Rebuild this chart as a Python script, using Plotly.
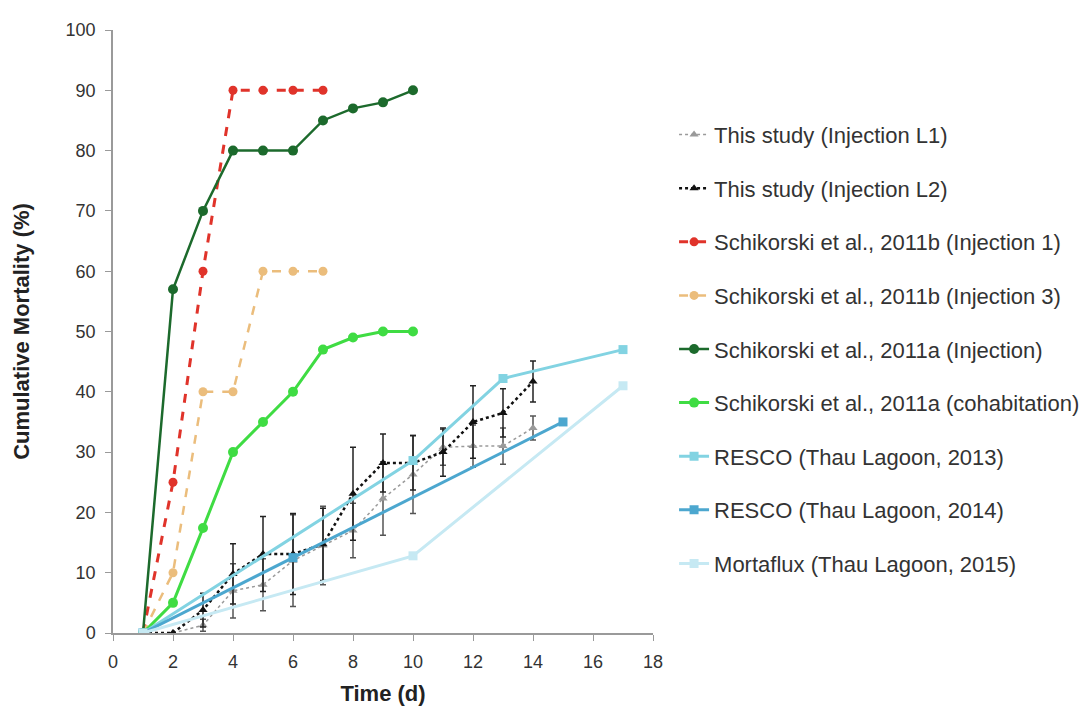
import plotly.graph_objects as go

# ---- data ----
days_study = [1, 2, 3, 4, 5, 6, 7, 8, 9, 10, 11, 12, 13, 14]
l1_vals = [0, 0, 1.3, 7, 8, 12, 14.5, 17, 22.3, 26.3, 30.8, 31, 31, 34]
l1_err = [0, 0, 1, 4.5, 4.3, 7.6, 6.5, 4.5, 6.1, 6.5, 3, 3.5, 3, 2]
l2_vals = [0, 0, 3.8, 9.8, 13.1, 13.1, 14.7, 23.1, 28.2, 28.2, 30, 35, 36.5, 41.7]
l2_err = [0, 0, 2.8, 5, 6.2, 6.7, 6, 7.7, 4.8, 4.5, 4, 6, 4, 3.4]

days_2011b = [1, 2, 3, 4, 5, 6, 7]
inj1_vals = [0, 25, 60, 90, 90, 90, 90]
inj3_vals = [0, 10, 40, 40, 60, 60, 60]

days_2011a = [1, 2, 3, 4, 5, 6, 7, 8, 9, 10]
inj_a_vals = [0, 57, 70, 80, 80, 80, 85, 87, 88, 90]
cohab_vals = [0, 5, 17.4, 30, 35, 40, 47, 49, 50, 50]

days_resco13 = [1, 10, 13, 17]
resco13_vals = [0, 28.6, 42.2, 47]
days_resco14 = [1, 6, 15]
resco14_vals = [0, 12.5, 35]
days_morta = [1, 10, 17]
morta_vals = [0, 12.8, 41]

names = [
    "This study (Injection L1)",
    "This study (Injection L2)",
    "Schikorski et al., 2011b (Injection 1)",
    "Schikorski et al., 2011b (Injection 3)",
    "Schikorski et al., 2011a (Injection)",
    "Schikorski et al., 2011a (cohabitation)",
    "RESCO (Thau Lagoon, 2013)",
    "RESCO (Thau Lagoon, 2014)",
    "Mortaflux (Thau Lagoon, 2015)",
]

fig = go.Figure()

def add(x, y, name, color, dash, symbol, size, width, err=None, errcolor=None):
    kw = {}
    if err is not None:
        kw["error_y"] = dict(type="data", array=err, visible=True,
                             color=errcolor, thickness=1.5, width=3)
    fig.add_trace(go.Scatter(
        x=x, y=y, name=name, mode="lines+markers", legendgroup=name,
        line=dict(color=color, dash=dash, width=width),
        marker=dict(symbol=symbol, size=size, color=color),
        **kw))

add(days_study, l1_vals, names[0], "#9a9a9a", "dot", "triangle-up", 8, 1.5, l1_err, "#555555")
add(days_study, l2_vals, names[1], "#111111", "dot", "triangle-up", 8, 2.5, l2_err, "#222222")
add(days_2011b, inj1_vals, names[2], "#e0332a", "dash", "circle", 9, 3)
add(days_2011b, inj3_vals, names[3], "#ebbd7c", "dash", "circle", 9, 2.5)
add(days_2011a, inj_a_vals, names[4], "#1c6a2c", "solid", "circle", 10, 2.5)
add(days_2011a, cohab_vals, names[5], "#3fdc43", "solid", "circle", 10, 3)
add(days_resco13, resco13_vals, names[6], "#82d3e2", "solid", "square", 9, 3)
add(days_resco14, resco14_vals, names[7], "#4ca7cf", "solid", "square", 9, 3)
add(days_morta, morta_vals, names[8], "#c6e9f3", "solid", "square", 9, 3)

fam = "Liberation Sans, Arial, sans-serif"
fig.update_layout(
    width=1090, height=722,
    paper_bgcolor="white", plot_bgcolor="white",
    margin=dict(l=105, r=445, t=14, b=97),
    font=dict(family=fam, size=18, color="#333333"),
    showlegend=True,
    legend=dict(x=1.039, xanchor="left", y=0.861, yanchor="top",
                font=dict(family=fam, size=22, color="#333333"),
                tracegroupgap=22, itemwidth=30, bgcolor="rgba(0,0,0,0)"),
    xaxis=dict(range=[0, 18], dtick=2, showgrid=False, zeroline=False,
               showline=True, linecolor="#9a9a9a", linewidth=1.5,
               ticks="outside", ticklen=6, tickcolor="#9a9a9a", ticklabelstandoff=6,
               title=dict(text="<b>Time (d)</b>", font=dict(family=fam, size=22, color="#222222"), standoff=14)),
    yaxis=dict(range=[0, 100], dtick=10, showgrid=False, zeroline=False,
               showline=True, linecolor="#9a9a9a", linewidth=1.5,
               ticks="outside", ticklen=6, tickcolor="#9a9a9a", ticklabelstandoff=6,
               title=dict(text="<b>Cumulative Mortality (%)</b>", font=dict(family=fam, size=22, color="#222222"), standoff=30)),
)

fig.write_html("out.html")
